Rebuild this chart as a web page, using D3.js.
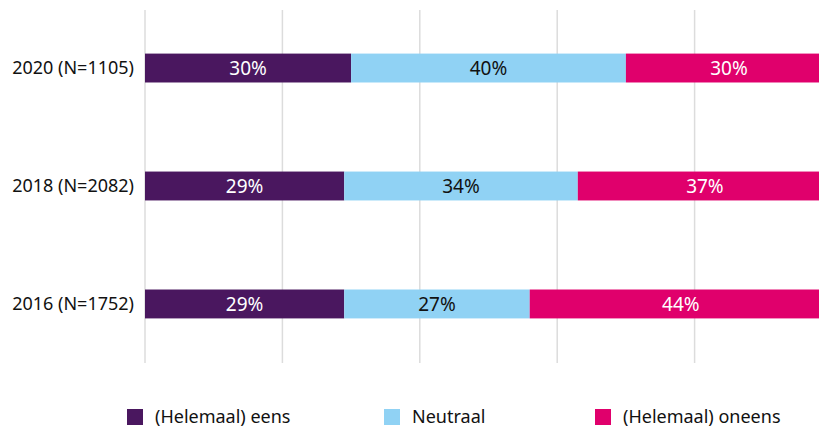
<!DOCTYPE html>
<html><head><meta charset="utf-8">
<script src="https://cdn.jsdelivr.net/npm/d3@7"></script>
<style>body{margin:0;background:#fff}svg{display:block;font-family:"Noto Sans",sans-serif}</style>
</head><body><svg id="c" width="819" height="427"></svg>
<script>
const categories = ["2020 (N=1105)", "2018 (N=2082)", "2016 (N=1752)"];
const seriesNames = ["(Helemaal) eens", "Neutraal", "(Helemaal) oneens"];
const eens = [30, 29, 29];
const neutraal = [40, 34, 27];
const oneens = [30, 37, 44];
const gridTicks = [0, 20, 40, 60, 80, 100];
const colors = ["#4a175f", "#90d2f4", "#e0006c"];
const textColors = ["#ffffff", "#111111", "#ffffff"];

const svg = d3.select("#c");
const x = d3.scaleLinear().domain([0, 100]).range([145, 832]);
const y = d3.scaleBand().domain(categories).range([9, 363]).paddingInner(0.755).paddingOuter(0.378);

svg.append("g").selectAll("line").data(gridTicks).join("line")
  .attr("x1", d => x(d)).attr("x2", d => x(d)).attr("y1", 10).attr("y2", 363)
  .attr("stroke", "#dcdcdc").attr("stroke-width", 1.5);

const seriesVals = [eens, neutraal, oneens];
const rows = categories.map((c, i) => {
  let acc = 0;
  return seriesVals.map((s, k) => { const r = {cat: c, k, v: s[i], x0: acc}; acc += s[i]; return r; });
});

const g = svg.append("g");
rows.flat().forEach(d => {
  g.append("rect").attr("x", x(d.x0)).attr("width", x(d.x0 + d.v) - x(d.x0))
    .attr("y", y(d.cat)).attr("height", y.bandwidth()).attr("fill", colors[d.k]);
  g.append("text").attr("x", (x(d.x0) + x(d.x0 + d.v)) / 2).attr("y", y(d.cat) + y.bandwidth() / 2)
    .attr("dy", "0.35em").attr("text-anchor", "middle").attr("font-size", 19)
    .attr("fill", textColors[d.k]).text(d.v + "%");
});

svg.append("g").selectAll("text").data(categories).join("text")
  .attr("x", 134).attr("y", d => y(d) + y.bandwidth() / 2).attr("dy", "0.35em")
  .attr("text-anchor", "end").attr("font-size", 18).attr("fill", "#111").text(d => d);

const legX = [127, 384, 595];
const lg = svg.append("g");
seriesNames.forEach((n, k) => {
  lg.append("rect").attr("x", legX[k]).attr("y", 409).attr("width", 16).attr("height", 16).attr("fill", colors[k]);
  lg.append("text").attr("x", legX[k] + 28).attr("y", 417).attr("dy", "0.35em")
    .attr("font-size", 18).attr("fill", "#111").text(n);
});
</script></body></html>
